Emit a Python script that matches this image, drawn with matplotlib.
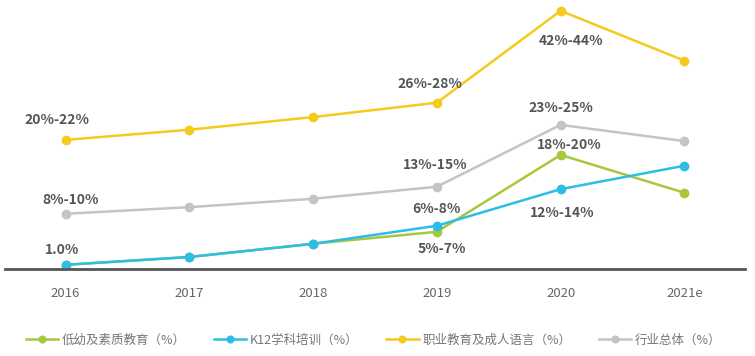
import matplotlib.pyplot as plt

plt.rcParams['font.family'] = ['Noto Sans CJK SC', 'DejaVu Sans']

years = ["2016", "2017", "2018", "2019", "2020", "2021e"]

# growth rates (%)
early_edu = [0.7, 2.0, 4.2, 6.2, 19.0, 12.7]
k12 = [0.7, 2.0, 4.2, 7.2, 13.3, 17.2]
vocational = [21.5, 23.2, 25.3, 27.7, 43.0, 34.7]
overall = [9.2, 10.3, 11.7, 13.7, 24.0, 21.3]

series_names = ["低幼及素质教育（%）", "K12学科培训（%）", "职业教育及成人语言（%）", "行业总体（%）"]
colors = ["#a8c83c", "#2ebde6", "#f4cb1d", "#c4c4c4"]

# (series index, year index, text, dx px, dy px)
labels = [
    (2, 0, "20%-22%", -9, 20),
    (3, 0, "8%-10%", 5, 14),
    (1, 0, "1.0%", -4, 15),
    (2, 3, "26%-28%", -7, 19),
    (2, 4, "42%-44%", 10, -30),
    (3, 4, "23%-25%", 0, 17),
    (0, 4, "18%-20%", 9, 10),
    (3, 3, "13%-15%", -2, 22),
    (1, 3, "6%-8%", 0, 17),
    (0, 3, "5%-7%", 5, -17),
    (1, 4, "12%-14%", 2, -24),
]

W, H = 755, 356
fig = plt.figure(figsize=(W / 100, H / 100), dpi=100)
ax = fig.add_axes([5 / W, 1 - 269 / H, 740 / W, 269 / H])

data = [early_edu, k12, vocational, overall]
x = list(range(len(years)))
handles = []
for vals, c, name in zip(data, colors, series_names):
    h, = ax.plot(x, vals, color=c, lw=1.8, marker='o', ms=6, label=name, clip_on=False)
    handles.append(h)

for si, yi, txt, dx, dy in labels:
    ax.annotate(txt, xy=(x[yi], data[si][yi]), xytext=(dx * 0.72, dy * 0.72),
                textcoords='offset points', ha='center', va='center',
                fontsize=10, fontweight='bold', color='#555555')

ax.set_xlim(-0.49, 5.49)
ax.set_ylim(0, 44.8)
for s in ['top', 'right', 'left']:
    ax.spines[s].set_visible(False)
ax.spines['bottom'].set_color('#555555')
ax.spines['bottom'].set_linewidth(2)
ax.set_yticks([])
ax.set_xticks(x)
ax.set_xticklabels(years, fontsize=9.5, color='#666666')
ax.tick_params(axis='x', length=0, pad=13)

fig.legend(handles=handles, loc='center', bbox_to_anchor=(0.495, 1 - 340 / H), ncol=4,
           frameon=False, fontsize=9, labelcolor='#777777', handlelength=2.6,
           handletextpad=0.3, columnspacing=2.2, markerscale=0.8)

fig.savefig('out.png', dpi=100)
